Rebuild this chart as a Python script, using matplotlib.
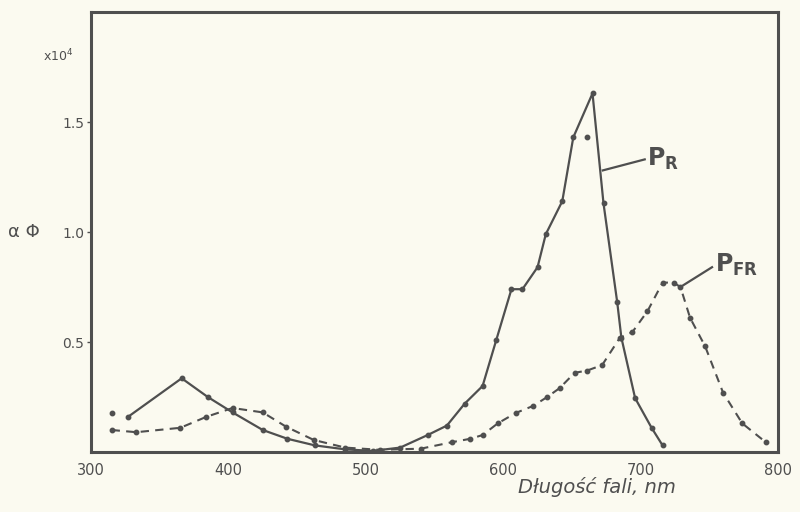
import matplotlib
matplotlib.use("Agg")
import matplotlib.pyplot as plt

# P_R (solid) data
pr_x = [327, 366, 385, 403, 425, 443, 463, 485, 505, 525, 545, 559, 572, 585, 595, 606, 614, 625, 631, 643, 651, 665, 673, 683, 686, 696, 708, 716]
pr_y = [0.16, 0.335, 0.25, 0.18, 0.10, 0.06, 0.03, 0.012, 0.005, 0.02, 0.077, 0.12, 0.22, 0.30, 0.51, 0.74, 0.74, 0.84, 0.99, 1.14, 1.43, 1.63, 1.13, 0.68, 0.52, 0.245, 0.11, 0.03]
pr_extra_x = [315, 661]
pr_extra_y = [0.177, 1.43]

# P_FR (dashed) data
pfr_x = [315, 333, 365, 384, 403, 425, 442, 462, 485, 510, 540, 563, 576, 585, 596, 609, 622, 632, 641, 652, 661, 672, 685, 694, 705, 716, 724, 729, 736, 747, 760, 774, 791]
pfr_y = [0.10, 0.09, 0.11, 0.16, 0.20, 0.18, 0.115, 0.055, 0.02, 0.01, 0.015, 0.045, 0.06, 0.077, 0.13, 0.177, 0.21, 0.25, 0.29, 0.36, 0.37, 0.395, 0.52, 0.545, 0.64, 0.77, 0.77, 0.75, 0.61, 0.48, 0.27, 0.13, 0.045]

x_ticks = [300, 400, 500, 600, 700, 800]
x_ticklabels = ["300", "400", "500", "600", "700", "800"]
y_ticks = [0.5, 1.0, 1.5]
y_ticklabels = ["0.5", "1.0", "1.5"]

bg = "#fbfaf0"
ink = "#4f4f4f"

fig = plt.figure(figsize=(8, 5.12), dpi=100, facecolor=bg)
ax = fig.add_axes([91/800, 1-452/512, (778-91)/800, (452-12)/512], facecolor=bg)

ax.plot(pr_x, pr_y, color=ink, lw=1.6, marker="o", ms=3.2, mfc=ink, mec=ink)
ax.plot(pr_extra_x, pr_extra_y, ls="none", marker="o", ms=3.2, color=ink)
ax.plot(pfr_x, pfr_y, color=ink, lw=1.5, ls=(0, (4, 3)), marker="o", ms=3.2, mfc=ink, mec=ink)

# leader lines and labels
ax.plot([672.5, 703], [1.28, 1.33], color=ink, lw=1.6)
ax.text(705, 1.33, r"P$_{\mathregular{R}}$", fontsize=17, color=ink, va="center", ha="left", fontweight="bold")
ax.plot([729, 752], [0.75, 0.84], color=ink, lw=1.6)
ax.text(754, 0.85, r"P$_{\mathregular{FR}}$", fontsize=17, color=ink, va="center", ha="left", fontweight="bold")

ax.set_xlim(300, 800)
ax.set_ylim(0, 2.0)
ax.set_xticks(x_ticks)
ax.set_xticklabels(x_ticklabels)
ax.set_yticks(y_ticks)
ax.set_yticklabels(y_ticklabels)
ax.tick_params(axis="x", length=0, pad=8, labelsize=10.5, colors=ink)
ax.tick_params(axis="y", length=3, width=1, pad=2, labelsize=10, colors=ink)
for s in ax.spines.values():
    s.set_color(ink)
    s.set_linewidth(2.2)

ax.annotate("x10$^4$", xy=(-0.025, 1.8), xycoords=("axes fraction", "data"),
            ha="right", va="center", fontsize=9, color=ink)
ax.annotate("α Φ", xy=(-0.075, 1.0), xycoords=("axes fraction", "data"),
            ha="right", va="center", fontsize=13, color=ink)

fig.text(597/800, 1-487/512, "Długość fali, nm", style="italic", fontsize=14,
         color=ink, ha="center", va="center")

fig.savefig("out.png", dpi=100, facecolor=bg)
